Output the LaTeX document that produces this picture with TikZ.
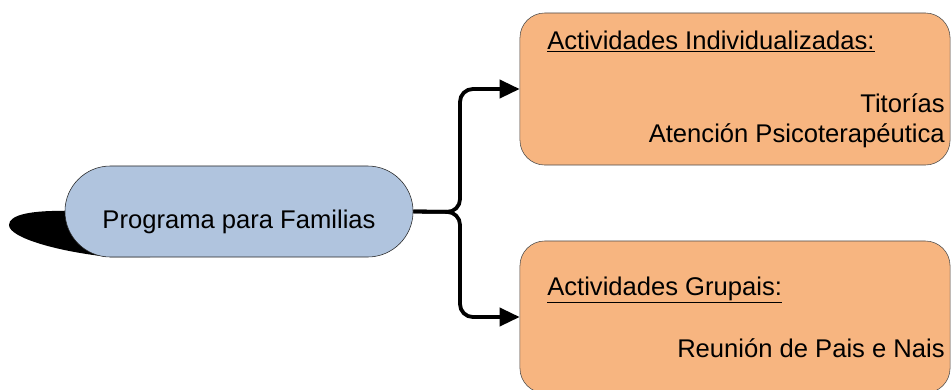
\documentclass[tikz,border=0pt]{standalone}
\usepackage{fontspec}
\setmainfont{Liberation Sans}
\usetikzlibrary{arrows.meta,shapes.misc}
\definecolor{familyblue}{RGB}{176,196,222}
\definecolor{activityorange}{RGB}{247,181,128}

\begin{document}
\begin{tikzpicture}[x=0.025cm,y=-0.025cm,
    font=\fontsize{18.2}{21}\selectfont,
    programa/.style={rounded rectangle, draw=black!85, thin, fill=familyblue,
        minimum width=8.7cm, minimum height=2.275cm, inner sep=0pt},
    actividades/.style={rectangle, rounded corners=0.62cm, draw=black!70, thin,
        fill=activityorange, minimum width=10.75cm, minimum height=3.8cm, inner sep=0pt},
    txt/.style={inner sep=0pt},
    branch/.style={line width=2.7pt, rounded corners=0.32cm,
        -{Triangle[length=0.5cm,width=0.45cm]}}]
    \useasboundingbox (0,0) rectangle (951,389);
    % shadow behind the main node
    \fill[black] (70,211) .. controls (30,210) and (9,215) .. (9,225)
        .. controls (9,238) and (60,252) .. (110,257) -- (150,257) -- (150,211) -- cycle;
    \node[programa] (familias) at (239,211.5) {};
    \node[txt, anchor=base] (familiastxt) at (familias.center |- 0,228) {Programa para Familias};
    \node[actividades] (individual) at (735,89) {};
    \node[actividades] (grupal) at (735,317) {};
    \node[txt, anchor=base west] (individualtit) at (547,49) {\underline{Actividades Individualizadas:}};
    \node[txt, anchor=base east] (titorias) at (945,112) {Titorías};
    \node[txt, anchor=base east] (atencion) at (945,142) {Atención Psicoterapéutica};
    \node[txt, anchor=base west] (grupaltit) at (547,295) {\underline{Actividades Grupais:}};
    \node[txt, anchor=base east] (reunion) at (945,357) {Reunión de Pais e Nais};
    % brace-like connectors
    \draw[branch] (familias.east) -- (460,212) |- (individual.west);
    \draw[branch] (familias.east) -- (460,212) |- (grupal.west);
\end{tikzpicture}
\end{document}
